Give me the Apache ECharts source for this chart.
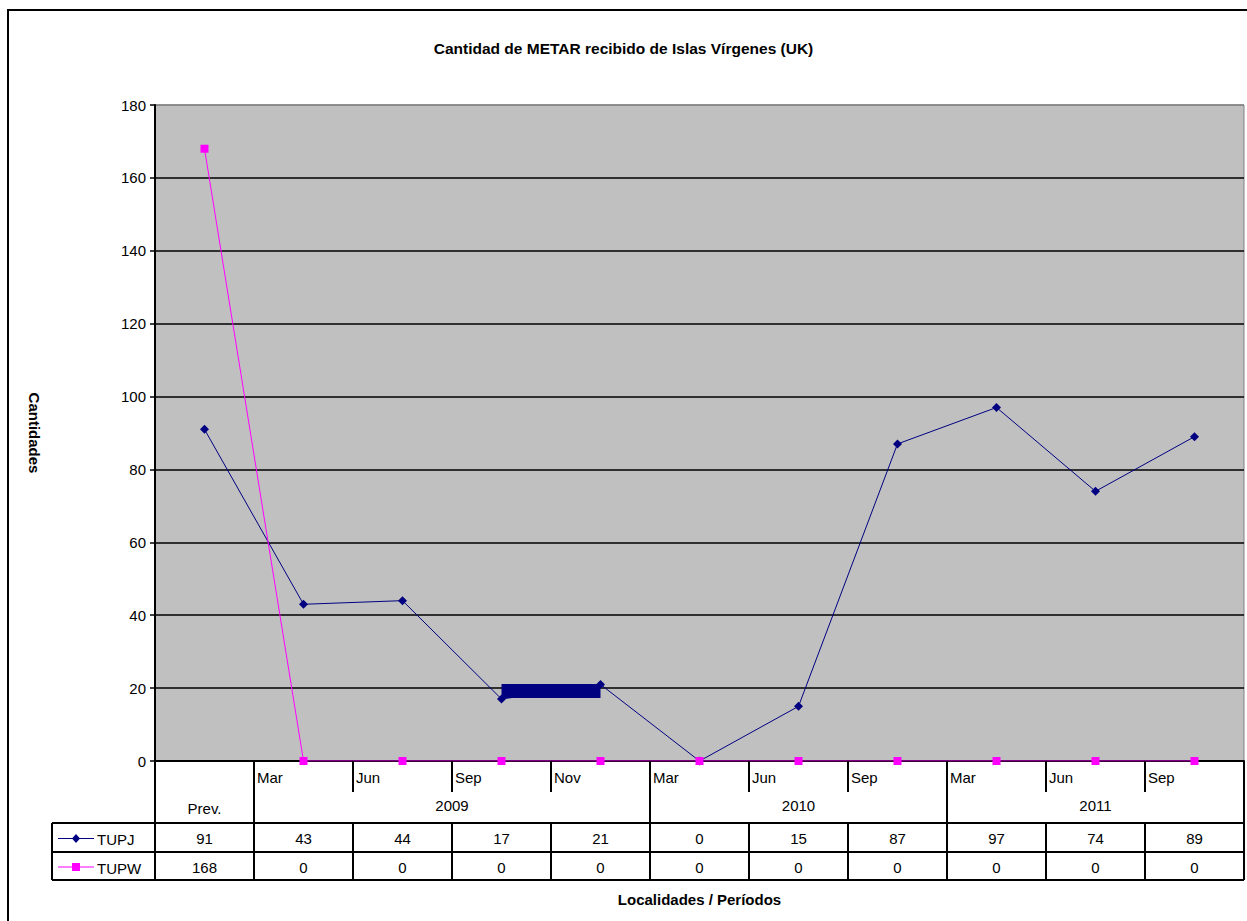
<!DOCTYPE html>
<html lang="es">
<head>
  <meta charset="UTF-8">
  <title>Cantidad de METAR recibido de Islas Vírgenes (UK)</title>
  <script src="https://cdn.jsdelivr.net/npm/echarts@6/dist/echarts.min.js"></script>
  <style>body{margin:0;background:#fff}#main{width:1247px;height:921px}</style>
</head>
<body>
  <div id="main"></div>
  <script>
  // datos
  const periods = ['Prev.','Mar','Jun','Sep','Nov','Mar','Jun','Sep','Mar','Jun','Sep'];
  const years = ['2009','2010','2011'];
  const yearFirst = [1,5,8];
  const yearLast = [4,7,10];
  const tupj = [91,43,44,17,21,0,15,87,97,74,89];
  const tupw = [168,0,0,0,0,0,0,0,0,0,0];
  const names = ['TUPJ','TUPW'];
  const colors = ['#000080','#FF00FF'];
  // recuadro azul dibujado sobre el grafico (Sep -> Nov 2009)
  const blueBox = [[3,17.3],[4,21.1]];

  const FONT = '"Liberation Sans", Arial, sans-serif';
  const chart = echarts.init(document.getElementById('main'), null, {renderer:'svg'});

  const splitColors = Array(9).fill('#000').concat(['#808080']);

  chart.setOption({
    animation:false,
    backgroundColor:'#fff',
    title:{
      text:'Cantidad de METAR recibido de Islas Vírgenes (UK)',
      left:'center', top:35,
      textStyle:{fontFamily:FONT,fontSize:15.5,fontWeight:'bold',color:'#000'}
    },
    grid:{left:155,right:3,top:105,bottom:160,show:true,backgroundColor:'#C0C0C0',borderColor:'#808080',borderWidth:1},
    xAxis:{
      type:'category', data:periods, boundaryGap:true,
      axisLine:{lineStyle:{color:'#000',width:2}},
      axisTick:{show:false}, axisLabel:{show:false},
      name:'Localidades / Períodos', nameLocation:'middle', nameGap:131,
      nameTextStyle:{fontFamily:FONT,fontSize:15,fontWeight:'bold',color:'#000'}
    },
    yAxis:{
      type:'value', min:0, max:180, interval:20,
      axisLine:{show:true,lineStyle:{color:'#000',width:2}},
      axisTick:{show:true,length:5,lineStyle:{color:'#000',width:1.5}},
      axisLabel:{fontFamily:FONT,fontSize:15,color:'#000',margin:9},
      splitLine:{lineStyle:{color:splitColors,width:1.5}},
      name:'Cantidades', nameLocation:'middle', nameGap:113, nameRotate:-90,
      nameTextStyle:{fontFamily:FONT,fontSize:15,fontWeight:'bold',color:'#000'}
    },
    series:[
      {name:names[0],type:'line',data:tupj,symbol:'diamond',symbolSize:9,
       lineStyle:{color:colors[0],width:1},itemStyle:{color:colors[0]},
       markArea:{silent:true,itemStyle:{color:colors[0],opacity:1},
         data:[[{coord:blueBox[0]},{coord:blueBox[1]}]]}},
      {name:names[1],type:'line',data:tupw,symbol:'rect',symbolSize:8,
       lineStyle:{color:colors[1],width:1},itemStyle:{color:colors[1]}}
    ]
  });

  // tabla de datos bajo el eje, posicionada con las escalas del grafico
  const cx = i => chart.convertToPixel({xAxisIndex:0}, i);
  const band = cx(1) - cx(0);
  const bx = i => cx(i) - band/2;           // borde izquierdo de la categoria i
  const y0 = chart.convertToPixel({yAxisIndex:0}, 0);
  const yShort = y0 + 31, yRow1 = y0 + 62, yRow2 = y0 + 91, yEnd = y0 + 119;
  const tableLeft = 52;
  const n = periods.length;
  const g = [];
  const line = (x1,y1,x2,y2,w) => g.push({type:'line',z:50,shape:{x1,y1,x2,y2},style:{stroke:'#000',lineWidth:w||2}});
  const text = (t,x,y,align,vAlign) => g.push({type:'text',z:50,style:{text:t,x,y,font:'15px '+FONT,fill:'#000',
      align:align,textAlign:align,verticalAlign:vAlign||'middle',textVerticalAlign:vAlign||'middle'}});

  // marco exterior
  g.push({type:'rect',z:0,shape:{x:8,y:10,width:1300,height:1000},style:{fill:null,stroke:'#000',lineWidth:2}});

  const fullBounds = new Set([0,1,n]);
  yearFirst.forEach(f => fullBounds.add(f));
  for (let b = 0; b <= n; b++) {
    const x = bx(b);
    if (fullBounds.has(b)) line(x,y0,x,yEnd);
    else { line(x,y0,x,yShort); line(x,yRow1,x,yEnd); }
  }
  line(tableLeft,yRow1,bx(n),yRow1);
  line(tableLeft,yRow2,bx(n),yRow2);
  line(tableLeft,yEnd,bx(n),yEnd);
  line(tableLeft,yRow1,tableLeft,yEnd);

  // etiquetas de periodos
  text(periods[0], cx(0), y0+47, 'center');
  for (let i = 1; i < n; i++) text(periods[i], bx(i)+3, y0+16, 'left');
  years.forEach((yr,k) => text(yr, (bx(yearFirst[k]) + bx(yearLast[k]+1))/2, y0+44, 'center'));

  // filas de valores con su leyenda
  [tupj,tupw].forEach((vals,r) => {
    const yc = (r === 0 ? (yRow1+yRow2)/2 : (yRow2+yEnd)/2) + 1;
    vals.forEach((v,i) => text(String(v), cx(i), yc, 'center'));
    g.push({type:'line',z:50,shape:{x1:58,y1:yc,x2:94,y2:yc},style:{stroke:colors[r],lineWidth:1}});
    if (r === 0) g.push({type:'polygon',z:51,shape:{points:[[76,yc-4.5],[80,yc],[76,yc+4.5],[72,yc]]},style:{fill:colors[r]}});
    else g.push({type:'rect',z:51,shape:{x:72,y:yc-4,width:8,height:8},style:{fill:colors[r]}});
    text(names[r], 97, yc+1, 'left');
  });

  chart.setOption({graphic:g});
  </script>
</body>
</html>
